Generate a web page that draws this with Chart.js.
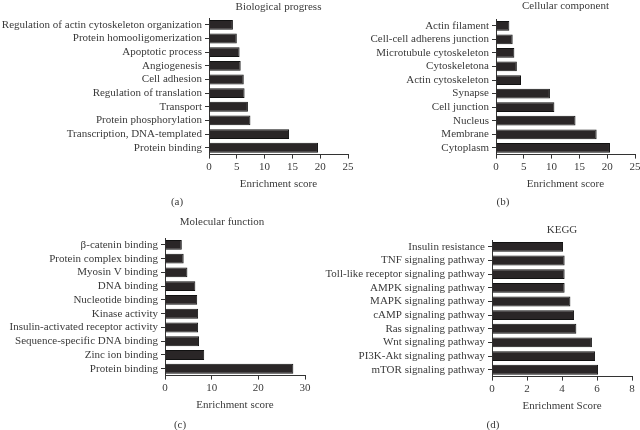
<!DOCTYPE html>
<html>
<head>
<meta charset="utf-8">
<script src="https://cdn.jsdelivr.net/npm/chart.js@4/dist/chart.umd.min.js"></script>
<style>
  html, body { margin: 0; padding: 0; background: #fff; overflow: hidden; }
  body { width: 640px; height: 430px; position: relative; }
  .panel { position: absolute; }
</style>
</head>
<body>
<div class="panel" style="left:0;top:0;width:360px;height:215px"><canvas id="chartA"></canvas></div>
<div class="panel" style="left:320px;top:0;width:330px;height:215px"><canvas id="chartB"></canvas></div>
<div class="panel" style="left:0;top:215px;width:330px;height:215px"><canvas id="chartC"></canvas></div>
<div class="panel" style="left:320px;top:215px;width:330px;height:215px"><canvas id="chartD"></canvas></div>
<script>
// (a) Biological progress
var bpLabels = ['Regulation of actin cytoskeleton organization', 'Protein homooligomerization',
  'Apoptotic process', 'Angiogenesis', 'Cell adhesion', 'Regulation of translation',
  'Transport', 'Protein phosphorylation', 'Transcription, DNA-templated', 'Protein binding'];
var bpValues = [4.3, 5.0, 5.5, 5.7, 6.25, 6.4, 7.0, 7.45, 14.4, 19.6];
var bpTicks = [0, 5, 10, 15, 20, 25];

// (b) Cellular component
var ccLabels = ['Actin filament', 'Cell-cell adherens junction', 'Microtubule cytoskeleton',
  'Cytoskeletona', 'Actin cytoskeleton', 'Synapse', 'Cell junction', 'Nucleus', 'Membrane', 'Cytoplasm'];
var ccValues = [2.4, 3.0, 3.3, 3.75, 4.5, 9.7, 10.5, 14.3, 18.1, 20.5];
var ccTicks = [0, 5, 10, 15, 20, 25];

// (c) Molecular function
var mfLabels = ['β-catenin binding', 'Protein complex binding', 'Myosin V binding', 'DNA binding',
  'Nucleotide binding', 'Kinase activity', 'Insulin-activated receptor activity',
  'Sequence-specific DNA binding', 'Zinc ion binding', 'Protein binding'];
var mfValues = [3.6, 4.0, 4.8, 6.5, 6.9, 7.1, 7.1, 7.3, 8.4, 27.5];
var mfTicks = [0, 10, 20, 30];

// (d) KEGG
var keggLabels = ['Insulin resistance', 'TNF signaling pathway', 'Toll-like receptor signaling pathway',
  'AMPK signaling pathway', 'MAPK signaling pathway', 'cAMP signaling pathway',
  'Ras signaling pathway', 'Wnt signaling pathway', 'PI3K-Akt signaling pathway', 'mTOR signaling pathway'];
var keggValues = [4.06, 4.15, 4.15, 4.15, 4.48, 4.69, 4.82, 5.71, 5.89, 6.06];
var keggTicks = [0, 2, 4, 6, 8];

var ink = '#3a3a3a';
Chart.defaults.font.family = "'Liberation Serif', 'DejaVu Serif', serif";
Chart.defaults.font.size = 11;
Chart.defaults.color = ink;

// panel title above the plot and (a)/(b)... caption below
var panelText = {
  id: 'panelText',
  afterDraw: function(chart, args, opts) {
    var ctx = chart.ctx, area = chart.chartArea;
    ctx.save();
    ctx.font = "11px 'Liberation Serif', serif";
    ctx.fillStyle = ink;
    ctx.textAlign = 'center';
    ctx.textBaseline = 'middle';
    ctx.fillText(opts.title, (area.left + area.right) / 2 + (opts.titleDx || 0), opts.titleY);
    ctx.fillText(opts.caption, opts.capX, opts.capY);
    ctx.restore();
  }
};

function makePanel(id, labels, values, ticks, xTitle, yWidth, pad, text) {
  var ctx = document.getElementById(id).getContext('2d');
  return new Chart(ctx, {
    type: 'bar',
    data: {
      labels: labels,
      datasets: [{
        data: values,
        backgroundColor: '#2a2627',
        borderColor: '#111',
        borderWidth: 1,
        barPercentage: 0.72,
        categoryPercentage: 1
      }]
    },
    options: {
      indexAxis: 'y',
      responsive: true,
      maintainAspectRatio: false,
      animation: false,
      layout: { padding: pad },
      plugins: {
        legend: { display: false },
        tooltip: { enabled: false },
        panelText: text
      },
      scales: {
        x: {
          min: ticks[0],
          max: ticks[ticks.length - 1],
          afterBuildTicks: function(scale) {
            scale.ticks = ticks.map(function(v) { return { value: v }; });
          },
          grid: { drawOnChartArea: false, tickLength: 4, color: '#333' },
          border: { color: '#333', width: 1 },
          ticks: { padding: 2, maxRotation: 0 },
          title: { display: true, text: xTitle, padding: { top: 2, bottom: 0 } }
        },
        y: {
          afterFit: function(scale) { scale.width = yWidth; },
          grid: { drawOnChartArea: false, tickLength: 4, color: '#333', offset: false },
          border: { color: '#333', width: 1 },
          ticks: { padding: 3, autoSkip: false }
        }
      }
    },
    plugins: [panelText]
  });
}

makePanel('chartA', bpLabels, bpValues, bpTicks, 'Enrichment score', 209,
  { top: 18, right: 12, bottom: 24, left: 0 },
  { title: 'Biological progress', titleY: 7, caption: '(a)', capX: 177, capY: 202 });
makePanel('chartB', ccLabels, ccValues, ccTicks, 'Enrichment score', 176,
  { top: 19, right: 15, bottom: 24, left: 0 },
  { title: 'Cellular component', titleY: 6, caption: '(b)', capX: 183, capY: 202 });
makePanel('chartC', mfLabels, mfValues, mfTicks, 'Enrichment score', 165,
  { top: 23, right: 25, bottom: 18, left: 0 },
  { title: 'Molecular function', titleY: 7, titleDx: -13, caption: '(c)', capX: 180, capY: 210 });
makePanel('chartD', keggLabels, keggValues, keggTicks, 'Enrichment Score', 172,
  { top: 25, right: 18, bottom: 17, left: 0 },
  { title: 'KEGG', titleY: 15, caption: '(d)', capX: 173, capY: 210 });
</script>
</body>
</html>
